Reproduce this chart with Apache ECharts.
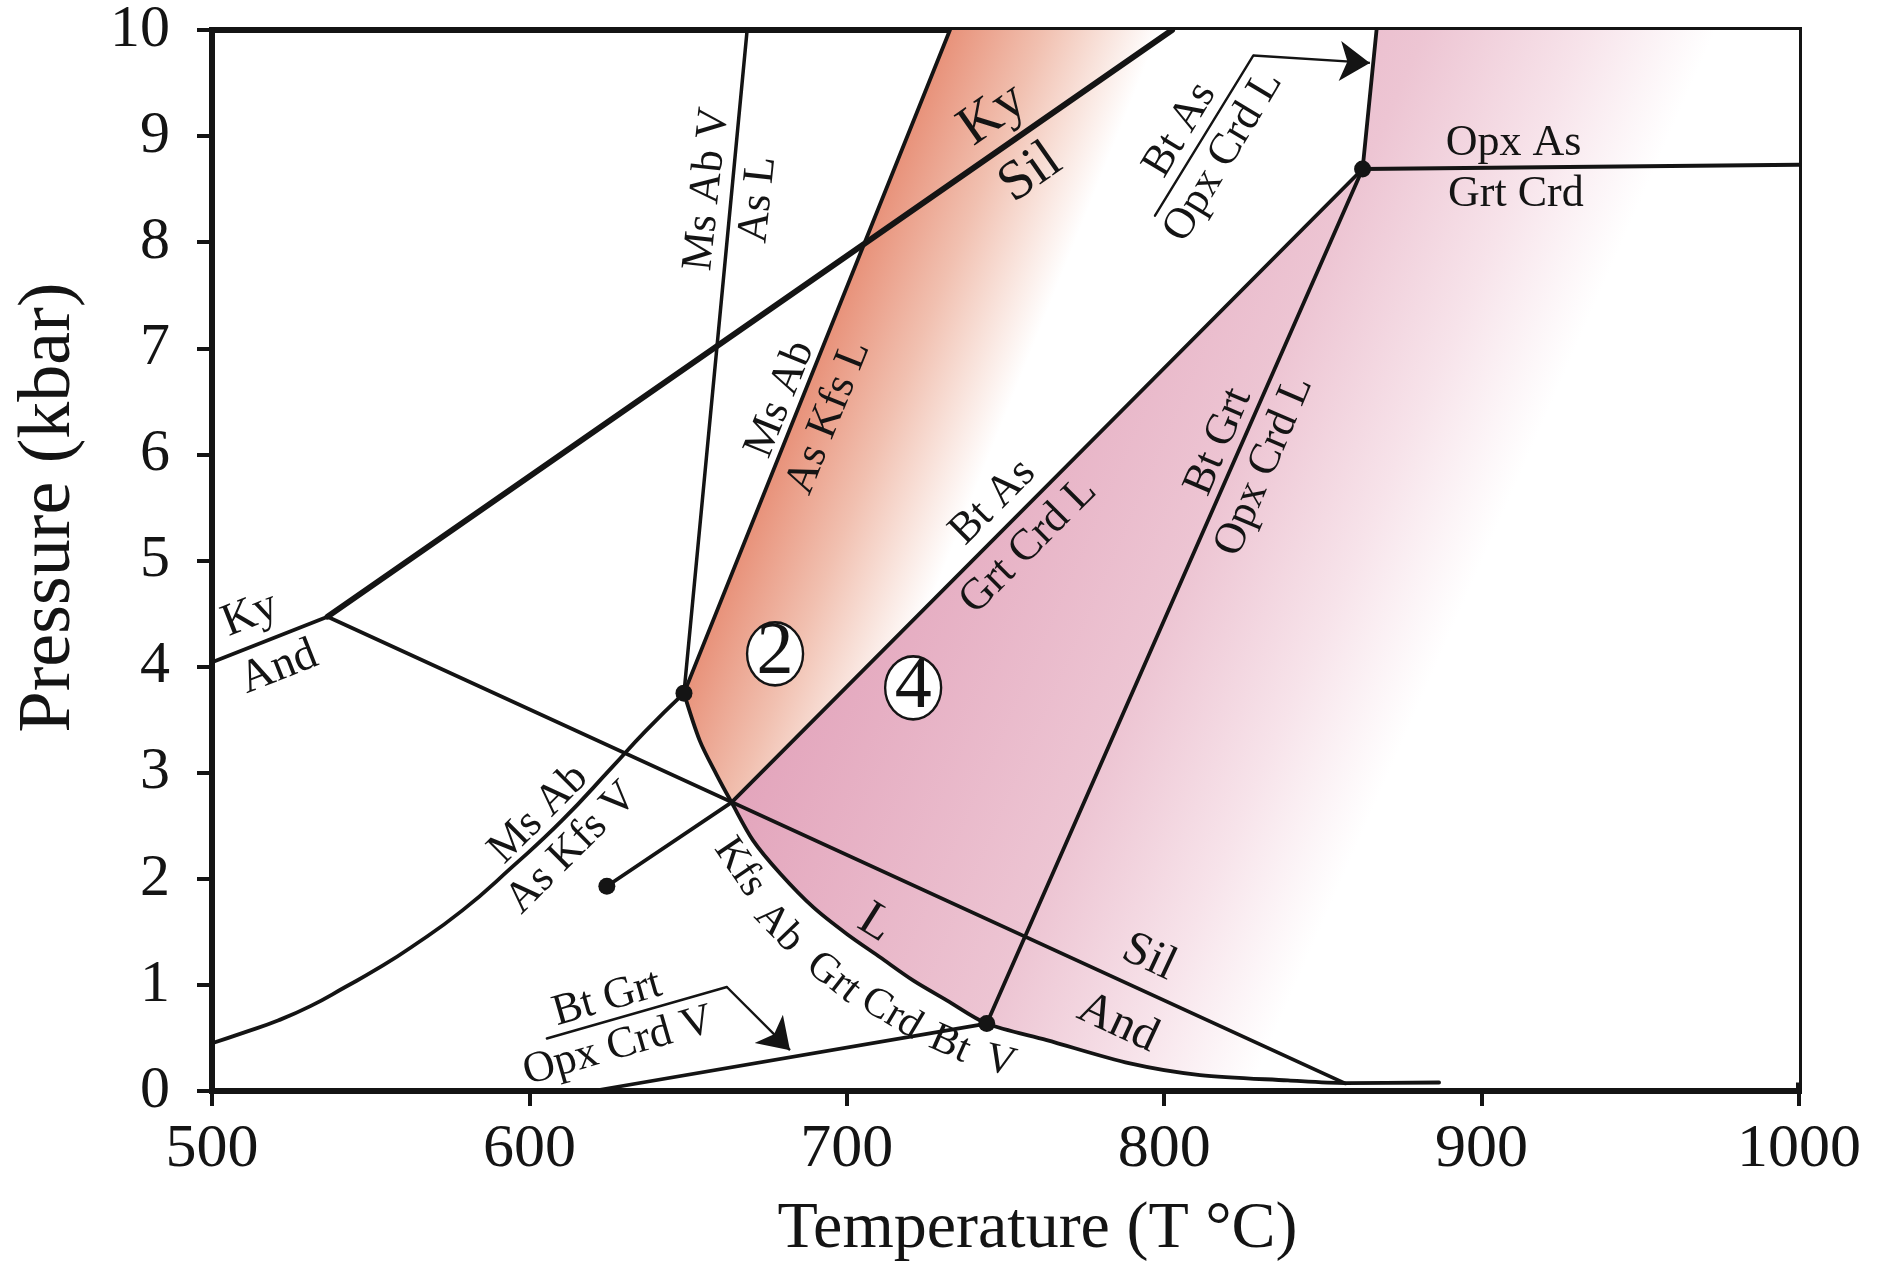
<!DOCTYPE html>
<html><head><meta charset="utf-8">
<script src="https://cdn.jsdelivr.net/npm/echarts@6/dist/echarts.min.js"></script>
<style>html,body{margin:0;padding:0;background:#fff}#c{width:1888px;height:1268px}</style>
</head><body><div id="c"></div>
<script>
// ---------- axes ----------
const tempRange = [500, 1000];
const pressureRange = [0, 10];

// ---------- reaction curves [T °C, P kbar] ----------
const kyAnd = [[500, 4.04], [536.4, 4.47]];
const kySil = [[536.4, 4.47], [802.5, 10]];
const silAnd = [[536.4, 4.47], [857, 0.072]];
const msAbV_AsL = [[648.7, 3.75], [668.6, 10]];
const msAb_AsKfsL = [[648.7, 3.75], [732.5, 10]];
const msAb_AsKfsV = [[500, 0.45], [510, 0.55], [521, 0.667], [531, 0.8], [542, 0.98], [552, 1.15], [563, 1.36], [578.8, 1.70], [594.5, 2.11], [610.3, 2.55], [626, 3.05], [636.5, 3.39], [648.7, 3.75]];
const solidus = [[648.7, 3.75], [653.7, 3.30], [659, 2.98], [663.7, 2.72], [670.5, 2.36], [679, 2.05], [689.5, 1.73], [700, 1.48], [710.5, 1.26], [721, 1.04], [731.5, 0.855], [744.1, 0.636], [763, 0.48], [789.2, 0.26], [811.3, 0.15], [839, 0.10], [857, 0.075], [886.6, 0.08]];
const btAs_GrtCrdL = [[624.4, 1.93], [663.7, 2.72], [862.5, 8.69]];
const btGrt_OpxCrdL = [[744.1, 0.636], [862.5, 8.69]];
const btAs_OpxCrdL = [[862.5, 8.69], [866.9, 10]];
const opxAs_GrtCrd = [[862.5, 8.69], [1000, 8.73]];
const btGrt_OpxCrdV = [[620, 0], [744.1, 0.636]];
const invariantPoints = [[648.7, 3.75], [624.4, 1.93], [744.1, 0.636], [862.5, 8.69]];
const fieldNumbers = [[677.4, 4.12, '2'], [720.9, 3.80, '4']];
const btAsLeader = [[797.1, 8.25], [828.1, 9.76]];
const btAsArrow = [[828.1, 9.76], [864.8, 9.69]];
const btGrtLeader = [[605.5, 0.495], [662.2, 0.98]];
const btGrtArrow = [[662.2, 0.98], [682.1, 0.385]];

// ---------- labels [text, T, P] ----------
const labels = [
  ['Ky', 746, 9.20], ['Sil', 757.9, 8.65],
  ['Ms Ab V', 656, 8.50], ['As L', 672.1, 8.40],
  ['Ms Ab', 679, 6.52], ['As Kfs L', 694.2, 6.35],
  ['Bt As', 805, 9.06], ['Opx Crd L', 818.6, 8.81],
  ['Opx As', 910.1, 8.93], ['Grt Crd', 910.8, 8.45],
  ['Bt As', 746, 5.55], ['Grt Crd L', 757.2, 5.14],
  ['Bt Grt', 817.1, 6.12], ['Opx Crd L', 831.5, 5.89],
  ['Ky', 512, 4.49], ['And', 521.1, 3.99],
  ['Ms Ab', 602.9, 2.61], ['As Kfs V', 613.4, 2.29],
  ['Bt Grt', 624.5, 0.87], ['Opx Crd V', 628, 0.42],
  ['Sil', 795.2, 1.26], ['And', 785.4, 0.64],
  ['L', 709, 1.58],
  ['Kfs', 666.3, 2.11], ['Ab', 678.6, 1.54], ['Grt', 695.8, 1.07], ['Crd', 714.1, 0.73], ['Bt', 732.5, 0.44], ['V', 748.3, 0.275]
];
// style per label: [rotation deg, font size]
const labelStyle = [
  [35, 56], [35, 56],
  [84, 44], [84, 44],
  [68, 44], [68, 44],
  [59, 44], [59, 44],
  [0, 44], [0, 44],
  [45, 44], [45, 44],
  [67, 44], [67, 44],
  [21.6, 46], [21.6, 46],
  [45, 44], [45, 44],
  [16, 44], [16, 44],
  [-25, 48], [-25, 48],
  [-32, 50],
  [-56, 42], [-46, 42], [-38, 42], [-31, 42], [-24, 42], [-14, 42]
];

// ---------- fields built from the curves ----------
const orangeField = [msAb_AsKfsL[0], msAb_AsKfsL[1], btAs_OpxCrdL[1], btAs_OpxCrdL[0], btAs_GrtCrdL[1], solidus[2], solidus[1]];
const pinkField = [btAs_GrtCrdL[1], btAs_GrtCrdL[2], btAs_OpxCrdL[1], [tempRange[1], pressureRange[1]], [tempRange[1], solidus[solidus.length - 1][1]]].concat(solidus.slice(3).reverse());

const FONT = "'Liberation Serif', 'Times New Roman', Times, serif";
const INK = '#141414';

function lineSeries(name, data, width, smooth) {
  return { type: 'line', name, data, symbol: 'none', showSymbol: false, smooth: smooth || false,
    lineStyle: { color: INK, width, cap: 'round', join: 'round', opacity: 1 }, z: 3, silent: true, clip: true };
}

function gradientField(name, pts, dirLine, origin, width, stops) {
  return {
    type: 'custom', name, coordinateSystem: 'cartesian2d', data: [[tempRange[0], pressureRange[0]]], z: 1, silent: true, clip: true,
    renderItem: function (params, api) {
      const p = pts.map(q => api.coord(q));
      const a = api.coord(dirLine[0]), b = api.coord(dirLine[1]);
      let dx = b[0] - a[0], dy = b[1] - a[1];
      const L = Math.hypot(dx, dy); dx /= L; dy /= L;
      const nx = -dy, ny = dx;
      const o = api.coord(origin);
      return { type: 'polygon', shape: { points: p },
        style: { fill: new echarts.graphic.LinearGradient(o[0], o[1], o[0] + nx * width, o[1] + ny * width, stops, true), stroke: null } };
    }
  };
}

const chart = echarts.init(document.getElementById('c'), null, { renderer: 'canvas' });
chart.setOption({
  animation: false,
  backgroundColor: '#fff',
  grid: { left: 212, right: 89, top: 27, bottom: 177, show: true, borderColor: INK, borderWidth: 6, backgroundColor: 'transparent' },
  xAxis: {
    type: 'value', min: tempRange[0], max: tempRange[1], interval: 100,
    name: 'Temperature (T °C)', nameLocation: 'middle', nameGap: 106,
    nameTextStyle: { fontFamily: FONT, fontSize: 66, color: INK, padding: [0, 0, 0, 64] },
    axisLine: { show: true, onZero: false, lineStyle: { color: INK, width: 6 } },
    axisTick: { show: true, length: 15, lineStyle: { color: INK, width: 4 } },
    axisLabel: { fontFamily: FONT, fontSize: 62, color: INK, margin: 28, formatter: v => String(v) },
    splitLine: { show: false }
  },
  yAxis: {
    type: 'value', min: pressureRange[0], max: pressureRange[1], interval: 1,
    name: 'Pressure (kbar)', nameLocation: 'middle', nameGap: 125,
    nameTextStyle: { fontFamily: FONT, fontSize: 74, color: INK, padding: [0, 0, 0, 106] },
    axisLine: { show: true, onZero: false, lineStyle: { color: INK, width: 6 } },
    axisTick: { show: true, length: 15, lineStyle: { color: INK, width: 4 } },
    axisLabel: { fontFamily: FONT, fontSize: 60, color: INK, margin: 42, formatter: v => String(v) },
    splitLine: { show: false }
  },
  series: [
    gradientField('field 2', orangeField, msAb_AsKfsL, msAb_AsKfsL[0], 195,
      [{ offset: 0, color: '#E8927A' }, { offset: 0.45, color: '#F1C0B0' }, { offset: 1, color: '#FFFFFF' }]),
    gradientField('field 4', pinkField, btGrt_OpxCrdL, btAs_GrtCrdL[1], 590,
      [{ offset: 0, color: '#E3A5BC' }, { offset: 0.55, color: '#EDC5D3' }, { offset: 0.8, color: '#F7E3EA' }, { offset: 1, color: '#FFFFFF' }]),
    lineSeries('Ky-And', kyAnd, 3.8),
    lineSeries('Ky-Sil', kySil, 5.8),
    lineSeries('Sil-And', silAnd, 3.8),
    lineSeries('Ms Ab V = As L', msAbV_AsL, 3.5),
    lineSeries('Ms Ab = As Kfs L', msAb_AsKfsL, 3.8),
    lineSeries('Ms Ab = As Kfs V', msAb_AsKfsV, 3.8, 0.5),
    lineSeries('Solidus', solidus, 3.8, 0.3),
    lineSeries('Bt As = Grt Crd L', btAs_GrtCrdL, 3.8),
    lineSeries('Bt Grt = Opx Crd L', btGrt_OpxCrdL, 3.8),
    lineSeries('Bt As = Opx Crd L', btAs_OpxCrdL, 3.8),
    lineSeries('Opx As = Grt Crd', opxAs_GrtCrd, 3.8),
    lineSeries('Bt Grt = Opx Crd V', btGrt_OpxCrdV, 3.8),
    lineSeries('leader 1', btAsLeader, 2.4),
    lineSeries('leader 2', btGrtLeader, 2.4),
    {
      type: 'lines', coordinateSystem: 'cartesian2d', polyline: false, z: 3, silent: true,
      symbol: ['none', 'arrow'], symbolSize: [1, 30],
      lineStyle: { color: INK, width: 2.4, opacity: 1, curveness: 0 },
      itemStyle: { color: INK, opacity: 1 },
      data: [{ coords: btAsArrow }, { coords: btGrtArrow }]
    },
    {
      type: 'scatter', name: 'invariant points', data: invariantPoints, symbol: 'circle', symbolSize: 17,
      itemStyle: { color: INK, opacity: 1 }, z: 6, silent: true
    },
    {
      type: 'scatter', name: 'fields', data: fieldNumbers.map(f => [f[0], f[1]]), symbol: 'circle', symbolSize: [56, 63],
      itemStyle: { color: '#ffffff', borderColor: INK, borderWidth: 2.5, opacity: 1 }, z: 6, silent: true,
      label: { show: true, position: 'inside', formatter: p => fieldNumbers[p.dataIndex][2], fontFamily: FONT, fontSize: 74, color: INK, opacity: 1 }
    },
    {
      type: 'custom', name: 'labels', coordinateSystem: 'cartesian2d', z: 7, silent: true,
      data: labels.map(l => [l[1], l[2]]),
      renderItem: function (params, api) {
        const i = params.dataIndex;
        const pt = api.coord([api.value(0), api.value(1)]);
        return { type: 'text', x: pt[0], y: pt[1], rotation: labelStyle[i][0] * Math.PI / 180,
          style: { text: labels[i][0], fontFamily: FONT, fontSize: labelStyle[i][1], fill: INK, align: 'center', verticalAlign: 'middle' } };
      }
    }
  ]
});
</script>
</body></html>
